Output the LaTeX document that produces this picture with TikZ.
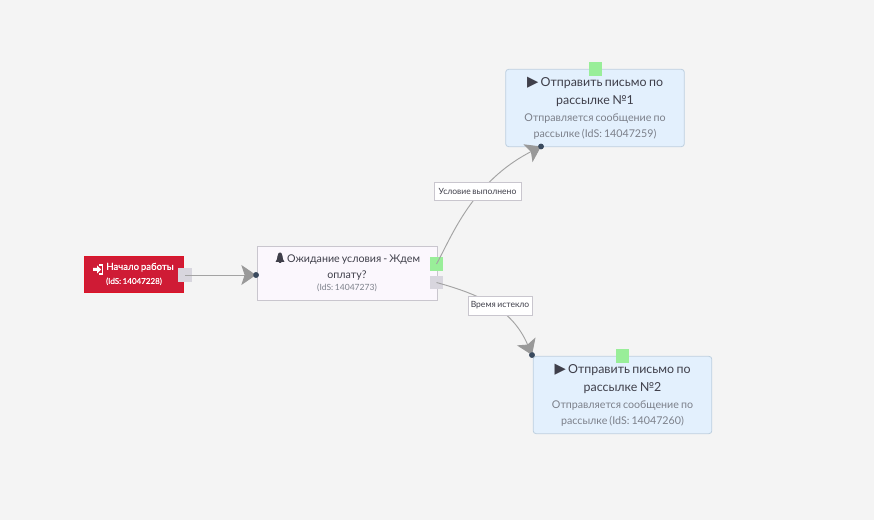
\documentclass[tikz,border=0pt]{standalone}
\usepackage{fontspec}
\setmainfont{Lato}[WordSpace=0.75]
\newfontfamily\symb{DejaVu Sans}
\usetikzlibrary{arrows.meta}
\definecolor{bgc}{HTML}{F4F4F4}
\definecolor{ttl}{HTML}{3F3F4A}
\definecolor{subc}{HTML}{7C808A}
\definecolor{bluef}{HTML}{E3F0FD}
\definecolor{blued}{HTML}{BDCFDF}
\definecolor{redf}{HTML}{CF1B35}
\definecolor{lilac}{HTML}{FBF7FD}
\definecolor{lilacd}{HTML}{C9C6CE}
\definecolor{pgreen}{HTML}{99EE99}
\definecolor{pgrey}{HTML}{D8D6DE}
\definecolor{dotc}{HTML}{3A4A5E}
\definecolor{wire}{HTML}{A3A3A3}
\definecolor{headc}{HTML}{999999}
\newcommand{\ttlf}{\fontsize{9.3pt}{13.2pt}\selectfont\color{ttl}}
\newcommand{\waitf}{\fontsize{8pt}{12pt}\selectfont\color{ttl}}
\newcommand{\subf}{\fontsize{8pt}{12pt}\selectfont\color{subc}}
\newcommand{\smallsub}{\fontsize{6.4pt}{9pt}\selectfont\color{subc}}
\newcommand{\playmark}{{\symb\fontsize{11pt}{11pt}\selectfont\color{ttl}▶}}
\tikzset{
  x=0.75pt,y=-0.75pt,
  blockbox/.style={draw=blued,fill=bluef,rounded corners=2.2pt,line width=0.6pt,minimum width=134pt,minimum height=58pt,inner sep=0pt,align=center},
  waitbox/.style={draw=lilacd,fill=lilac,line width=0.6pt,minimum width=135pt,minimum height=40.5pt,inner sep=0pt,align=center},
  startbox/.style={draw=red!30!redf,fill=redf,line width=0.4pt,minimum width=74.6pt,minimum height=27pt,inner sep=0pt,align=center,text=white},
  portg/.style={fill=pgreen,minimum size=10pt,inner sep=0pt},
  portn/.style={fill=pgrey,minimum size=10pt,inner sep=0pt},
  enddot/.style={circle,fill=dotc,minimum size=4.2pt,inner sep=0pt},
  wirel/.style={draw=wire,line width=0.7pt,-{Stealth[length=11pt,width=15pt,inset=2.5pt,fill=headc,color=headc]}},
  edgelabel/.style={draw=lilacd,fill=white,line width=0.5pt,inner sep=0pt,minimum height=14pt,font=\fontsize{6.4pt}{8pt}\selectfont,text=ttl}
}
\begin{document}
\begin{tikzpicture}
\useasboundingbox (0,0) rectangle (874,520);
\fill[bgc] (0,0) rectangle (874,520);
\node[startbox] (start) at (134,274) {\addfontfeature{FakeBold=0.4}\fontsize{7.2pt}{11pt}\selectfont\rule{9pt}{0pt}Начало работы\\[-1.5pt]\addfontfeature{FakeBold=0.6}\fontsize{6pt}{9pt}\selectfont (IdS: 14047228)};
\node[waitbox] (wait) at (347,273) {\waitf\rule{10pt}{0pt}Ожидание условия - Ждем\\[0pt]\waitf оплату?\\[-3pt]\smallsub (IdS: 14047273)};
\node[blockbox] (b1) at (595,108) {\ttlf\playmark\ Отправить письмо по\\[1.5pt]\ttlf рассылке №1\\[1pt]\subf Отправляется сообщение по\\\subf рассылке (IdS: 14047259)};
\node[blockbox] (b2) at (622.5,395) {\ttlf\playmark\ Отправить письмо по\\[1.5pt]\ttlf рассылке №2\\[1pt]\subf Отправляется сообщение по\\\subf рассылке (IdS: 14047260)};
\node[portn] (ps) at (185,275) {};
\node[portg] (pw1) at (436.5,264) {};
\node[portn] (pw2) at (436.5,282.5) {};
\node[portg] (pb1) at (595.5,69) {};
\node[portg] (pb2) at (622.5,356) {};
\node[enddot] (dw) at (256,275) {};
\node[enddot] (d1) at (541,146.5) {};
\node[enddot] (d2) at (532,355) {};
% icon of the start block
\fill[white] (93,268) -- (97,268) -- (97,265.5) -- (101,269.5) -- (97,273.5) -- (97,271) -- (93,271) -- cycle;
\draw[white,line width=0.8pt] (99,265) -- (102.5,265) -- (102.5,274) -- (99,274);
% bell of the waiting block
\fill[ttl] (275.5,262) .. controls (277.5,260) and (277,258) .. (277.5,256) .. controls (278,253) and (279,252.5) .. (280,252.5) .. controls (281,252.5) and (282,253) .. (282.5,256) .. controls (283,258) and (282.5,260) .. (284.5,262) -- cycle;
\fill[ttl] (278.5,263) arc[start angle=180,end angle=360,radius=1.5] -- cycle;
\draw[wirel] (ps.center) -- (dw.center);
\draw[wirel] (pw1.center) .. controls (452,236) and (472,182) .. (d1.center);
\draw[wirel] (pw2.center) .. controls (478,294) and (512,308) .. (d2.center);
\node[enddot] at (dw) {};
\node[enddot] at (d1) {};
\node[enddot] at (d2) {};
\node[edgelabel,minimum width=65pt] (l1) at (477.5,191.5) {Условие выполнено};
\node[edgelabel,minimum width=48pt] (l2) at (500,305.5) {Время истекло};
\end{tikzpicture}
\end{document}
